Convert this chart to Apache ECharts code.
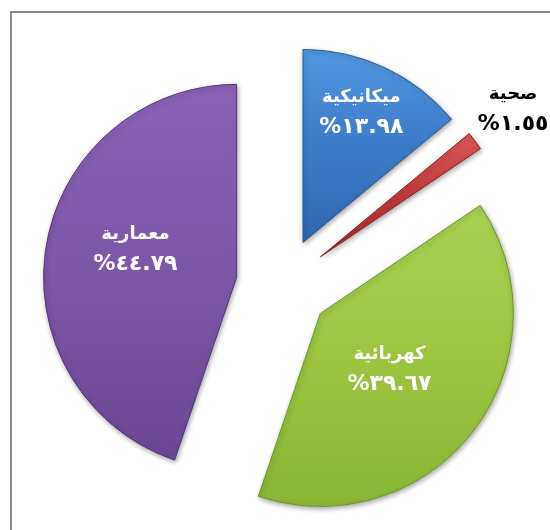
<!DOCTYPE html>
<html>
<head>
<meta charset="utf-8">
<script src="https://cdn.jsdelivr.net/npm/echarts@6/dist/echarts.min.js"></script>
<style>
  html, body { margin: 0; padding: 0; background: #fff; }
  #chart { width: 550px; height: 530px; }
</style>
</head>
<body>
<div id="chart"></div>
<script>
// Share of each specialty (percent)
const categories = ['ميكانيكية', 'صحية', 'كهربائية', 'معمارية'];
const shares = [13.98, 1.55, 39.67, 44.79];

// Slice fills: [top, middle, bottom] of a vertical gradient
const fills = [
  ['#5297e0', '#3c7bc8', '#2f66ae'],
  ['#dc5a58', '#c03a3a', '#a62a2b'],
  ['#a9d052', '#9cc43f', '#8ab636'],
  ['#8a64b8', '#7b57a8', '#6a4794']
];
const edges = ['#2a5d9c', '#8e2224', '#6f9a2a', '#563679'];
const labelColors = ['#ffffff', '#000000', '#ffffff', '#ffffff'];
// label nudges from the default inside position
const labelShift = [[16, -40], [113, -88], [-10, -5], [-3, -12]];

const arabicDigits = '٠١٢٣٤٥٦٧٨٩';
function toArabic(v) {
  return v.toFixed(2).replace(/[0-9]/g, d => arabicDigits[+d]);
}

const data = categories.map((name, i) => ({
  name,
  value: shares[i],
  selected: true,
  itemStyle: {
    color: new echarts.graphic.LinearGradient(0, 0, 0, 1, [
      { offset: 0, color: fills[i][0] },
      { offset: 0.5, color: fills[i][1] },
      { offset: 1, color: fills[i][2] }
    ]),
    borderColor: edges[i],
    borderWidth: 1
  },
  label: {
    rich: {
      n: { color: labelColors[i] },
      p: { color: labelColors[i] }
    }
  }
}));

const chart = echarts.init(document.getElementById('chart'), null, { renderer: 'canvas' });
chart.setOption({
  animation: false,
  graphic: [{
    type: 'rect',
    shape: { x: 11, y: 12, width: 620, height: 600 },
    style: { fill: 'none', stroke: '#8a8a8a', lineWidth: 2 },
    silent: true,
    z: -1
  }],
  series: [{
    type: 'pie',
    center: [283, 285],
    radius: [0, 193],
    startAngle: 90,
    clockwise: true,
    selectedMode: 'multiple',
    selectedOffset: 47,
    avoidLabelOverlap: false,
    emphasis: { disabled: true },
    itemStyle: {
      shadowBlur: 5,
      shadowColor: 'rgba(0,0,0,0.35)',
      shadowOffsetX: 1,
      shadowOffsetY: 2
    },
    label: {
      show: true,
      position: 'inside',
      align: 'center',
      formatter: p => '{n|' + p.name + '}\n{p|%' + toArabic(p.value) + '}',
      rich: {
        n: { fontFamily: 'DejaVu Sans', fontWeight: 'bold', fontSize: 18, lineHeight: 30, align: 'center' },
        p: { fontFamily: 'DejaVu Sans', fontWeight: 'bold', fontSize: 22, lineHeight: 30, align: 'center' }
      }
    },
    labelLine: { show: false },
    labelLayout: p => ({ dx: labelShift[p.dataIndex][0], dy: labelShift[p.dataIndex][1] }),
    data
  }]
});
</script>
</body>
</html>
